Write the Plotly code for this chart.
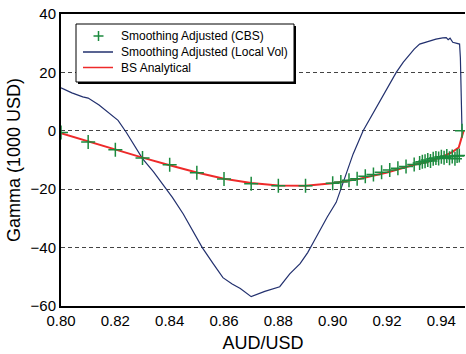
import plotly.graph_objects as go

# BS analytical gamma (1000 USD) vs spot
bs_x = [0.800, 0.810, 0.820, 0.830, 0.840, 0.850, 0.860, 0.870, 0.880, 0.890,
        0.900, 0.910, 0.920, 0.930, 0.935, 0.940, 0.944, 0.9464, 0.9482]
bs_y = [-0.8, -3.6, -6.5, -9.2, -11.8, -14.3, -16.4, -17.9, -18.7, -18.8,
        -18.0, -16.4, -14.3, -11.6, -10.6, -9.0, -7.3, -5.7, 0.0]

# Smoothing adjusted gamma, CBS scheme (markers)
cbs_x = [0.800, 0.810, 0.820, 0.830, 0.840, 0.850, 0.860, 0.870, 0.880, 0.890,
         0.900, 0.903, 0.906, 0.909, 0.912, 0.915, 0.918, 0.921, 0.924, 0.927,
         0.930, 0.932, 0.933, 0.934, 0.935, 0.936, 0.937, 0.938, 0.939, 0.940,
         0.941, 0.942, 0.943, 0.944, 0.945, 0.9458, 0.9466, 0.9476]
cbs_y = [-0.6, -3.8, -6.5, -9.3, -11.6, -14.4, -16.5, -18.1, -18.8, -18.8,
         -18.0, -17.5, -16.9, -16.4, -15.6, -15.0, -14.2, -13.4, -12.8, -12.2,
         -11.5, -11.0, -10.6, -10.4, -10.0, -10.3, -9.6, -9.3, -9.5, -8.9,
         -9.2, -8.6, -9.4, -8.8, -9.6, -8.6, -8.5, 0.0]

# Smoothing adjusted gamma, local vol model
lv_x = [0.800, 0.804, 0.808, 0.810, 0.814, 0.818, 0.821, 0.824, 0.827, 0.830,
        0.834, 0.8386, 0.841, 0.845, 0.850, 0.852, 0.856, 0.8596, 0.863, 0.866,
        0.870, 0.875, 0.8805, 0.8842, 0.888, 0.8908, 0.893, 0.8952, 0.898, 0.9013,
        0.904, 0.9075, 0.9112, 0.916, 0.920, 0.9234, 0.926, 0.9283, 0.930, 0.932,
        0.935, 0.938, 0.9405, 0.9418, 0.9425, 0.9432, 0.9442, 0.9455, 0.9467, 0.9470,
        0.9472, 0.9474, 0.9476]
lv_y = [14.7, 13.0, 11.6, 11.2, 8.8, 6.0, 3.6, -0.5, -5.0, -9.5,
        -14.0, -20.0, -22.8, -28.5, -36.5, -40.0, -45.5, -50.3, -52.5, -54.0,
        -56.8, -55.0, -53.4, -49.0, -45.5, -41.7, -38.0, -34.2, -29.5, -24.5,
        -17.0, -8.0, 0.0, 8.0, 14.5, 20.0, 23.5, 26.3, 28.0, 29.7,
        30.6, 31.4, 31.8, 31.9, 31.2, 31.7, 30.3, 29.9, 29.7, 25.0,
        10.0, 5.0, 0.0]

x_ticks = [0.80, 0.82, 0.84, 0.86, 0.88, 0.90, 0.92, 0.94]
y_ticks = [-60, -40, -20, 0, 20, 40]

legend_names = ["Smoothing Adjusted (CBS)", "Smoothing Adjusted (Local Vol)", "BS Analytical"]

GREEN, NAVY, RED = "#1b8a3e", "#22306e", "#ee2a2a"

W, H = 466, 354
L, R, T, B = 61, 465, 14, 306


def px(xp):
    return (xp - L) / (R - L)


def py(yp):
    return (B - yp) / (B - T)


fig = go.Figure()
fig.add_trace(go.Scatter(
    x=lv_x, y=lv_y, mode="lines", name=legend_names[1],
    line=dict(color=NAVY, width=1.2)))
fig.add_trace(go.Scatter(
    x=bs_x, y=bs_y, mode="lines", name=legend_names[2],
    line=dict(color=RED, width=2)))
fig.add_trace(go.Scatter(
    x=cbs_x, y=cbs_y, mode="markers", name=legend_names[0],
    marker=dict(symbol="cross-thin", size=10, line=dict(color=GREEN, width=1.5),
                color=GREEN)))

font = dict(family="Liberation Sans, Arial, sans-serif", size=15, color="black")

# legend box with drop shadow, drawn in pixel-derived paper coordinates
shapes = [
    dict(type="rect", xref="paper", yref="paper", layer="above",
         x0=px(78), x1=px(296), y0=py(26), y1=py(84),
         fillcolor="black", line=dict(width=0)),
    dict(type="rect", xref="paper", yref="paper", layer="above",
         x0=px(76), x1=px(294), y0=py(24), y1=py(82),
         fillcolor="white", line=dict(color="black", width=1)),
]
row_y = [36, 52, 67.5]
# legend symbols: green cross, navy line, red line
shapes += [
    dict(type="line", xref="paper", yref="paper", layer="above",
         x0=px(93.5), x1=px(103.5), y0=py(row_y[0]), y1=py(row_y[0]),
         line=dict(color=GREEN, width=1.5)),
    dict(type="line", xref="paper", yref="paper", layer="above",
         x0=px(98.5), x1=px(98.5), y0=py(row_y[0] - 5), y1=py(row_y[0] + 5),
         line=dict(color=GREEN, width=1.5)),
    dict(type="line", xref="paper", yref="paper", layer="above",
         x0=px(83), x1=px(113), y0=py(row_y[1]), y1=py(row_y[1]),
         line=dict(color=NAVY, width=1.5)),
    dict(type="line", xref="paper", yref="paper", layer="above",
         x0=px(83), x1=px(113), y0=py(row_y[2]), y1=py(row_y[2]),
         line=dict(color=RED, width=1.5)),
]
annotations = [
    dict(xref="paper", yref="paper", x=px(119), y=py(yy), text=name,
         showarrow=False, xanchor="left", yanchor="middle",
         font=dict(family="Liberation Sans, Arial, sans-serif", size=12, color="black"))
    for name, yy in zip(legend_names, row_y)
]

fig.update_layout(
    width=W, height=H,
    margin=dict(l=L, r=W - R, t=T, b=H - B),
    paper_bgcolor="white", plot_bgcolor="white",
    font=font,
    shapes=shapes,
    annotations=annotations,
    showlegend=False,
    xaxis=dict(range=[0.80, 0.9487], tickvals=x_ticks,
               ticktext=[f"{v:.2f}" for v in x_ticks],
               showgrid=False, zeroline=False,
               showline=True, linecolor="black", linewidth=2, mirror=True,
               ticks="", title=dict(text="AUD/USD", standoff=8)),
    yaxis=dict(range=[-60, 40], tickvals=y_ticks,
               showgrid=True, gridcolor="#444444", griddash="4px,3px", gridwidth=1,
               zeroline=False, showline=True, linecolor="black", linewidth=2,
               ticks="", title=dict(text="Gamma (1000 USD)", standoff=5)),
)

fig.write_html("out.html")
